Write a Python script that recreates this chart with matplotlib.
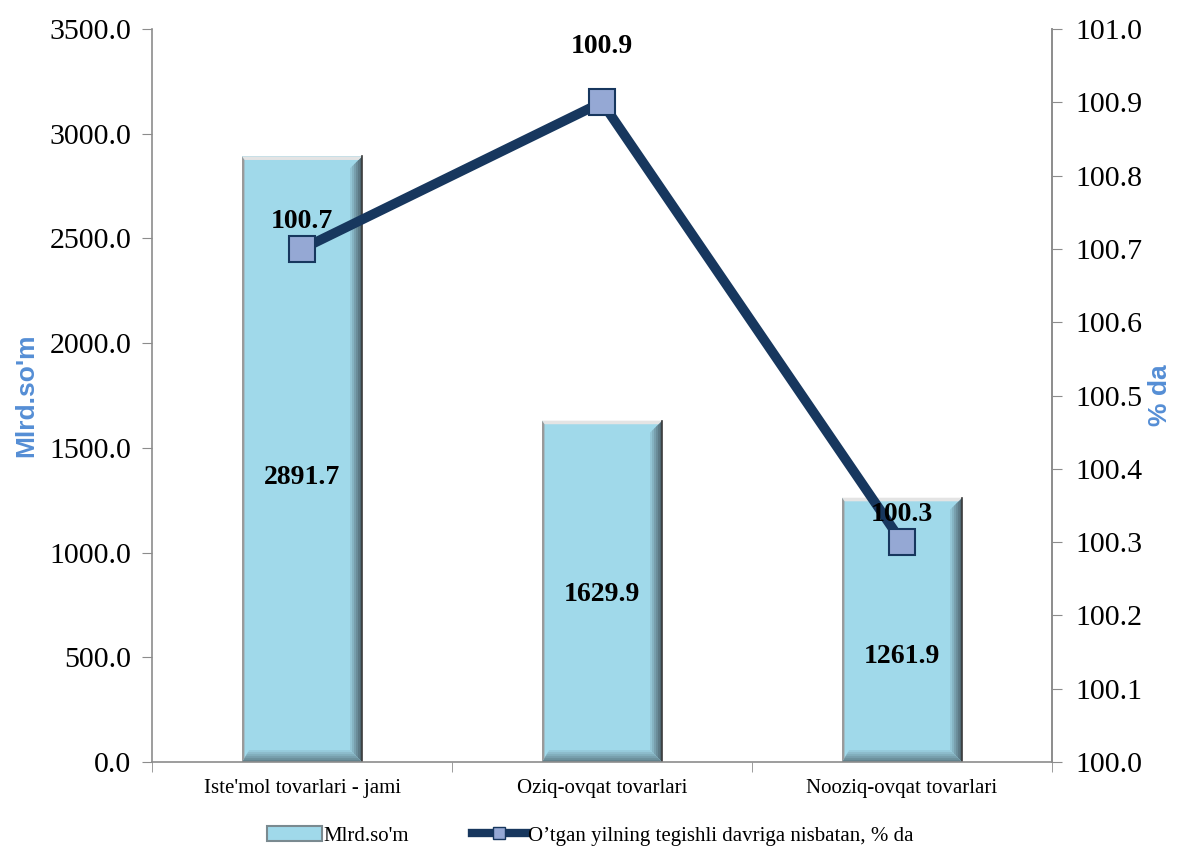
import numpy as np
import matplotlib.pyplot as plt
from matplotlib.patches import Patch, Polygon
from matplotlib.lines import Line2D
from matplotlib.ticker import FormatStrFormatter, FixedLocator

categories = ["Iste'mol tovarlari - jami", "Oziq-ovqat tovarlari", "Nooziq-ovqat tovarlari"]
values = [2891.7, 1629.9, 1261.9]
percent = [100.7, 100.9, 100.3]
bar_name = "Mlrd.so'm"
line_name = "O\u2019tgan yilning tegishli davriga nisbatan, % da"

plt.rcParams["font.family"] = ["Liberation Serif", "DejaVu Serif"]

bar_face = "#A0D9EA"
navy = "#17375E"
marker_face = "#95A8D4"
spine_col = "#8C8C8C"
label_blue = "#558ED5"

fig = plt.figure(figsize=(11.81, 8.48), dpi=100)
ax = fig.add_axes([0.1287, 0.1014, 0.7621, 0.8644])
x = np.arange(len(categories))
w = 0.4

bars = ax.bar(x, values, width=w, color=bar_face, edgecolor="none", zorder=2)

# bevel shading on each bar (derived from bar geometry)
bx = 0.04
by = 57
for b in bars:
    l = b.get_x()
    r = l + b.get_width()
    h = b.get_height()
    n = 6
    for i in range(n):
        f0 = i / n
        f1 = (i + 1) / n
        # right side: dark towards the edge
        c = np.array([0.63, 0.85, 0.92]) * (1 - 0.75 * f1) + np.array([0.2, 0.25, 0.28]) * 0.75 * f1
        ax.add_patch(Polygon([(r - bx * (1 - f0), by * (1 - f0)), (r - bx * (1 - f1), by * (1 - f1)),
                              (r - bx * (1 - f1), h - by * (1 - f1)), (r - bx * (1 - f0), h - by * (1 - f0))],
                             closed=True, color=c, lw=0, zorder=2.1))
        # bottom side
        c2 = np.array([0.63, 0.85, 0.92]) * (1 - 0.65 * f1) + np.array([0.25, 0.32, 0.35]) * 0.65 * f1
        ax.add_patch(Polygon([(l + bx * (1 - f0) * 0.6, by * (1 - f0)), (l + bx * (1 - f1) * 0.6, by * (1 - f1)),
                              (r - bx * (1 - f1), by * (1 - f1)), (r - bx * (1 - f0), by * (1 - f0))],
                             closed=True, color=c2, lw=0, zorder=2.1))
    # light top and left edges
    ax.add_patch(Polygon([(l, h), (r, h), (r - bx * 0.3, h - by * 0.3), (l + bx * 0.2, h - by * 0.3)],
                         closed=True, color="#E4E4E4", lw=0, zorder=2.2))
    ax.add_patch(Polygon([(l, 0), (l, h), (l + bx * 0.2, h - by * 0.3), (l + bx * 0.2, by * 0.3)],
                         closed=True, color="#9A9A9A", lw=0, zorder=2.2))
    ax.plot([r, r], [0, h], color="#3A3A3A", lw=1.2, zorder=2.3)

label_frac = [0.47, 0.49, 0.40]
for xi, v, fr in zip(x, values, label_frac):
    ax.text(xi, v * fr, f"{v:.1f}", ha="center", va="center", fontsize=20,
            fontweight="bold", color="black", zorder=3)

ax.set_xlim(-0.5, 2.5)
ax.set_ylim(0, 3500)
ax.set_yticks(np.arange(0, 3501, 500))
ax.yaxis.set_major_formatter(FormatStrFormatter("%.1f"))
ax.set_xticks(x)
ax.set_xticklabels(categories, fontsize=15)
ax.xaxis.set_minor_locator(FixedLocator([-0.5, 0.5, 1.5, 2.5]))
ax.tick_params(axis="x", which="major", length=0, pad=12)
ax.tick_params(axis="x", which="minor", length=7, color=spine_col, direction="out")
ax.tick_params(axis="y", labelsize=21.5, length=7, color=spine_col, direction="out", pad=8)
for s in ["top"]:
    ax.spines[s].set_visible(False)
for s in ["left", "bottom", "right"]:
    ax.spines[s].set_color(spine_col)
    ax.spines[s].set_linewidth(1.2)
ax.set_ylabel(bar_name, fontsize=19, fontweight="bold", color=label_blue,
              family=["Liberation Sans", "DejaVu Sans"], labelpad=8)

ax2 = ax.twinx()
ax2.plot(x, percent, color=navy, lw=7, marker="s", markersize=18.5,
         markerfacecolor=marker_face, markeredgecolor=navy, markeredgewidth=1.5, zorder=4)
ax2.set_ylim(100.0, 101.0)
ax2.set_yticks(np.arange(100.0, 101.01, 0.1))
ax2.yaxis.set_major_formatter(FormatStrFormatter("%.1f"))
ax2.tick_params(axis="y", labelsize=21.5, length=7, color=spine_col, direction="out", pad=10)
for s in ["top", "left", "bottom"]:
    ax2.spines[s].set_visible(False)
ax2.spines["right"].set_color(spine_col)
ax2.spines["right"].set_linewidth(1.2)
ax2.set_ylabel("% da", fontsize=19, fontweight="bold", color=label_blue,
               family=["Liberation Sans", "DejaVu Sans"], rotation=90, labelpad=4)

line_offsets = [27, 56, 28]
for xi, p, off in zip(x, percent, line_offsets):
    ax2.annotate(f"{p:.1f}", (xi, p), xytext=(0, off), textcoords="offset pixels",
                 ha="center", va="center", fontsize=20, fontweight="bold", zorder=5)

handles = [Patch(facecolor=bar_face, edgecolor="#7A8A90", linewidth=1.5),
           Line2D([0], [0], color=navy, lw=6, marker="s", markersize=9,
                  markerfacecolor=marker_face, markeredgecolor=navy)]
fig.legend(handles, [bar_name, line_name], loc="center", bbox_to_anchor=(0.5, 0.0142),
           ncol=2, frameon=False, fontsize=15, columnspacing=3.0, handlelength=2.6,
           handletextpad=0.1, borderaxespad=0)

fig.savefig("out.png", dpi=100)
